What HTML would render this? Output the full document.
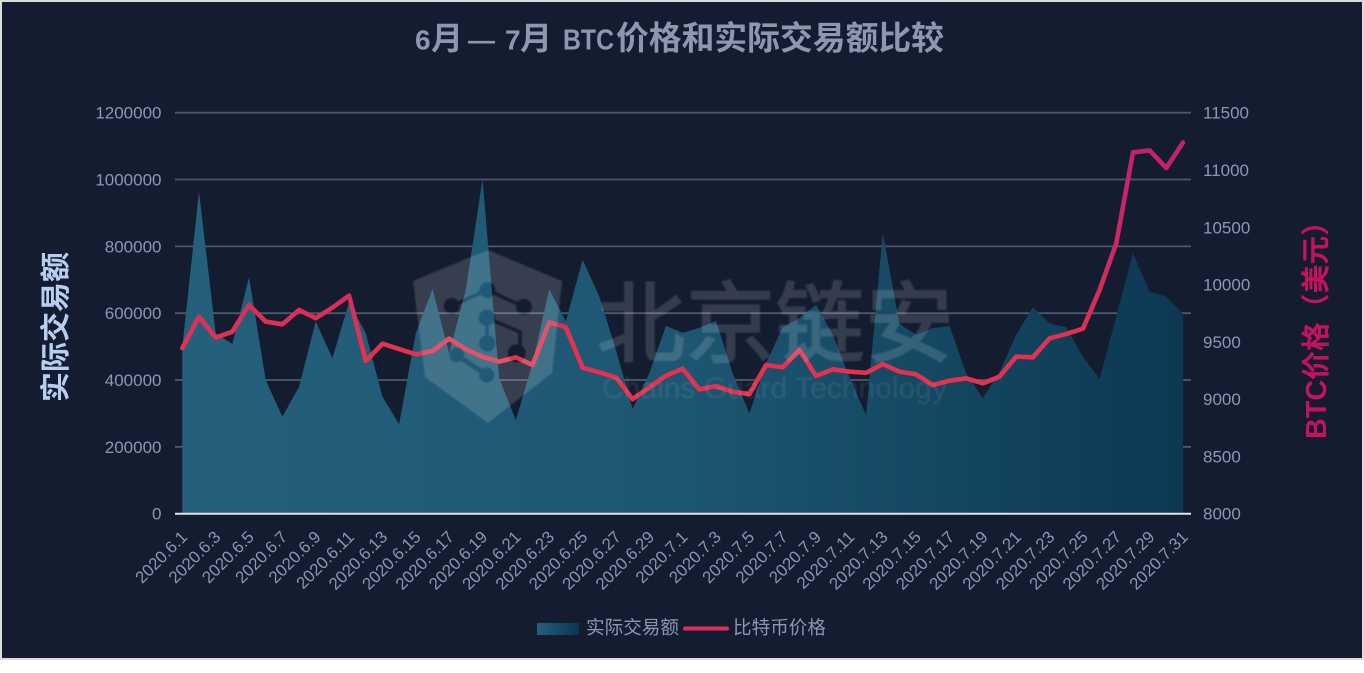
<!DOCTYPE html>
<html lang="zh">
<head>
<meta charset="utf-8">
<title>6月 — 7月 BTC价格和实际交易额比较</title>
<style>
html,body{margin:0;padding:0;background:#fff;width:1364px;height:673px;overflow:hidden}
#chart{display:block;position:absolute;left:0;top:0}
text{font-family:"Liberation Sans","Noto Sans CJK SC",sans-serif}
</style>
</head>
<body>
<svg id="chart" width="1364" height="673" viewBox="0 0 1364 673" xmlns="http://www.w3.org/2000/svg">
  <defs>
    <linearGradient id="areaGrad" x1="0" y1="0" x2="1" y2="0">
      <stop offset="0" stop-color="#24607c"/>
      <stop offset="0.5" stop-color="#1d5672"/>
      <stop offset="1" stop-color="#0c3852"/>
    </linearGradient>
    <linearGradient id="legendGrad" x1="0" y1="0" x2="1" y2="0">
      <stop offset="0" stop-color="#25607e"/>
      <stop offset="1" stop-color="#0a3550"/>
    </linearGradient>
    <linearGradient id="lineGrad" gradientUnits="userSpaceOnUse" x1="0" y1="140" x2="0" y2="400">
      <stop offset="0" stop-color="#c2206f"/>
      <stop offset="0.42" stop-color="#cc2866"/>
      <stop offset="0.78" stop-color="#e2324f"/>
      <stop offset="1" stop-color="#e2324f"/>
    </linearGradient>
    <mask id="hexMask" maskUnits="userSpaceOnUse" x="400" y="240" width="180" height="195">
      <polygon points="488,250 562,281 552,373 488,423 425,377 413,281" fill="#fff"/>
      <g stroke="#000" fill="none" stroke-width="3.5" stroke-linejoin="round">
        <line x1="487.3" y1="290" x2="524" y2="306.7"/>
        <polyline points="486.7,317.7 520,332 520,353"/>
        <line x1="487" y1="317.7" x2="487" y2="343.3"/>
        <line x1="452" y1="306" x2="487" y2="290"/>
        <line x1="456.7" y1="355" x2="486.7" y2="375" stroke-width="5"/>
      </g>
      <g fill="#000">
        <circle cx="451.7" cy="306" r="8"/>
        <circle cx="487.3" cy="290" r="8"/>
        <circle cx="524" cy="306.7" r="8"/>
        <circle cx="486.7" cy="317.7" r="8"/>
        <circle cx="487.3" cy="343.3" r="8"/>
        <circle cx="516.7" cy="353.3" r="9"/>
        <circle cx="456.7" cy="355" r="7.5"/>
        <circle cx="486.7" cy="375" r="7.5"/>
      </g>
    </mask>
    <filter id="soft" x="-5%" y="-5%" width="110%" height="110%"><feGaussianBlur stdDeviation="0.8"/></filter>
  </defs>

  <rect x="1" y="1" width="1362" height="658" fill="#141c30" stroke="#dcdcdc" stroke-width="2"/>

  <g fill="#8c97b0" font-weight="700">
    <text y="49.5"><tspan x="415" font-size="28">6</tspan><tspan x="431" font-size="32">月</tspan><tspan x="468" font-size="27">—</tspan><tspan x="505" font-size="28">7</tspan><tspan x="520" font-size="32">月</tspan><tspan x="616" font-size="32.8">价格和实际交易额比较</tspan></text>
    <text x="563" y="49.5" font-size="29" textLength="51" lengthAdjust="spacingAndGlyphs">BTC</text>
  </g>

  <g id="grid"></g>
  <path id="area" fill="url(#areaGrad)"></path>
  <line x1="175" x2="1191" y1="513.7" y2="513.7" stroke="#e4e4e4" stroke-width="2"></line>
  <path id="priceLine" fill="none" stroke="url(#lineGrad)" stroke-width="4.6" stroke-linejoin="round" stroke-linecap="round"></path>

  <g id="leftTicks" font-size="17" fill="#8c97b4" text-anchor="end"></g>
  <g id="rightTicks" font-size="17" fill="#8c97b4" text-anchor="start"></g>
  <g id="xTicks" font-size="16.8" fill="#8c97b4" text-anchor="end"></g>

  <text transform="translate(66,327) rotate(-90)" text-anchor="middle" font-size="30" font-weight="700" fill="#b9cdf0">实际交易额</text>
  <text transform="translate(1326,323) rotate(-90)" text-anchor="middle" font-size="28.8" font-weight="700" fill="#c4125c">BTC价格（美元）</text>

  <g>
    <rect x="537" y="623" width="42" height="12" fill="url(#legendGrad)"/>
    <text x="586" y="634" font-size="18.6" fill="#8c97b4">实际交易额</text>
    <line x1="685" x2="727" y1="628.5" y2="628.5" stroke="#df2f57" stroke-width="4" stroke-linecap="round"/>
    <text x="733" y="634" font-size="18.6" fill="#8c97b4">比特币价格</text>
  </g>

  <g filter="url(#soft)">
    <rect x="400" y="240" width="180" height="195" fill="#fff" fill-opacity="0.15" mask="url(#hexMask)"/>
    <text x="597" y="355" font-size="88" letter-spacing="1.5" fill="#fff" stroke="#fff" stroke-width="2.2" opacity="0.14">北京链安</text>
    <text x="602" y="398" font-size="30" textLength="345" fill="#fff" opacity="0.08">Chains Guard Technology</text>
  </g>
</svg>

<script>
const categories = ["2020.6.1","2020.6.2","2020.6.3","2020.6.4","2020.6.5","2020.6.6","2020.6.7","2020.6.8","2020.6.9","2020.6.10","2020.6.11","2020.6.12","2020.6.13","2020.6.14","2020.6.15","2020.6.16","2020.6.17","2020.6.18","2020.6.19","2020.6.20","2020.6.21","2020.6.22","2020.6.23","2020.6.24","2020.6.25","2020.6.26","2020.6.27","2020.6.28","2020.6.29","2020.6.30","2020.7.1","2020.7.2","2020.7.3","2020.7.4","2020.7.5","2020.7.6","2020.7.7","2020.7.8","2020.7.9","2020.7.10","2020.7.11","2020.7.12","2020.7.13","2020.7.14","2020.7.15","2020.7.16","2020.7.17","2020.7.18","2020.7.19","2020.7.20","2020.7.21","2020.7.22","2020.7.23","2020.7.24","2020.7.25","2020.7.26","2020.7.27","2020.7.28","2020.7.29","2020.7.30","2020.7.31"];
const volumeValues = [498000,963000,540000,508000,708000,400000,290000,380000,575000,465000,633000,540000,350000,268000,540000,672000,480000,670000,1002000,405000,280000,450000,672000,575000,760000,650000,490000,313000,420000,562000,541000,556000,577000,420000,300000,450000,558000,585000,625000,535000,409000,295000,840000,568000,535000,555000,562000,420000,346000,424000,535000,618000,570000,558000,470000,403000,590000,780000,664000,650000,598000];
const priceValues = [9446,9720,9537,9589,9822,9677,9653,9778,9706,9799,9903,9333,9484,9437,9391,9420,9528,9435,9370,9327,9365,9298,9671,9627,9274,9234,9190,9000,9103,9204,9265,9085,9114,9064,9044,9298,9278,9429,9202,9260,9240,9230,9306,9240,9216,9123,9161,9181,9138,9196,9371,9365,9531,9569,9615,9953,10361,11153,11171,11017,11240];
const leftTickValues = [0,200000,400000,600000,800000,1000000,1200000];
const rightTickValues = [8000,8500,9000,9500,10000,10500,11000,11500];

const svgNS = "http://www.w3.org/2000/svg";
const plotLeft = 182.3, plotRight = 1183, plotTop = 112.7, plotBottom = 513.7;
function xScale(i){ return plotLeft + (plotRight - plotLeft) * i / (categories.length - 1); }
function yLeft(v){ return plotBottom - (v - 0) / (1200000 - 0) * (plotBottom - plotTop); }
function yRight(v){ return plotBottom - (v - 8000) / (11500 - 8000) * (plotBottom - plotTop); }

const gridGroup = document.getElementById("grid");
leftTickValues.forEach(function(v){
  if (v === 0) return;
  const ln = document.createElementNS(svgNS, "line");
  ln.setAttribute("x1", 175);
  ln.setAttribute("x2", 1191);
  ln.setAttribute("y1", yLeft(v));
  ln.setAttribute("y2", yLeft(v));
  ln.setAttribute("stroke", "#50576d");
  ln.setAttribute("stroke-width", "1.8");
  
  
  gridGroup.appendChild(ln);
});

let areaPath = "M" + xScale(0) + " " + plotBottom;
volumeValues.forEach(function(v, i){ areaPath += " L" + xScale(i).toFixed(2) + " " + yLeft(v).toFixed(2); });
areaPath += " L" + xScale(volumeValues.length - 1) + " " + plotBottom + " Z";
document.getElementById("area").setAttribute("d", areaPath);

let linePath = "";
priceValues.forEach(function(v, i){ linePath += (i ? " L" : "M") + xScale(i).toFixed(2) + " " + yRight(v).toFixed(2); });
document.getElementById("priceLine").setAttribute("d", linePath);

const leftGroup = document.getElementById("leftTicks");
leftTickValues.forEach(function(v){
  const t = document.createElementNS(svgNS, "text");
  t.setAttribute("x", 161.5);
  t.setAttribute("y", yLeft(v) + 6);
  t.textContent = String(v);
  
  
  leftGroup.appendChild(t);
});

const rightGroup = document.getElementById("rightTicks");
rightTickValues.forEach(function(v){
  const t = document.createElementNS(svgNS, "text");
  t.setAttribute("x", 1203);
  t.setAttribute("y", yRight(v) + 6);
  t.textContent = String(v);
  
  
  rightGroup.appendChild(t);
});

const xGroup = document.getElementById("xTicks");
categories.forEach(function(c, i){
  if (i % 2 !== 0) return;
  const t = document.createElementNS(svgNS, "text");
  const px = xScale(i) + 6;
  const py = 538;
  t.setAttribute("transform", "translate(" + px.toFixed(2) + "," + py + ") rotate(-45)");
  t.textContent = c;
  
  
  xGroup.appendChild(t);
});
</script>
</body>
</html>
